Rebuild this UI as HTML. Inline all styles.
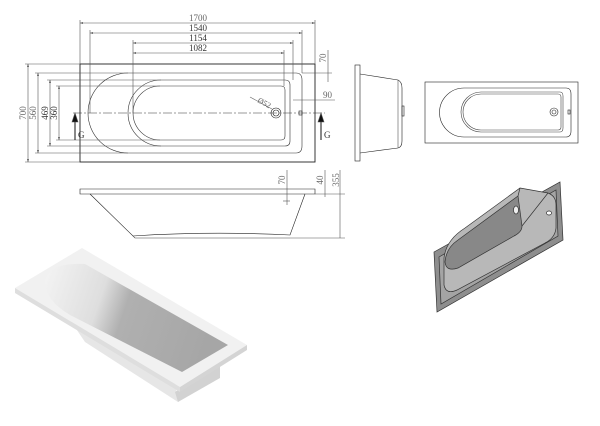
<!DOCTYPE html>
<html><head><meta charset="utf-8"><style>
html,body{margin:0;padding:0;background:#fff;}
svg{display:block;font-family:"Liberation Serif",serif;}
</style></head><body>
<svg width="600" height="426" viewBox="0 0 600 426" xmlns="http://www.w3.org/2000/svg">
<defs>
<marker id="a" markerWidth="6" markerHeight="6" refX="5" refY="3" orient="auto-start-reverse"><path d="M0,1.5 L5,3 L0,4.5z" fill="#444"/></marker>
<linearGradient id="g2" x1="0" y1="0" x2="1" y2="0.2"><stop offset="0" stop-color="#f4f4f4"/><stop offset="0.35" stop-color="#dedede"/><stop offset="0.5" stop-color="#b0b0b0"/><stop offset="1" stop-color="#a6a6a6"/></linearGradient>
</defs>
<g fill="none" stroke="#555" stroke-width="0.6">
<rect x="80" y="64" width="235" height="98" stroke="#222" stroke-width="0.9"/>
<path d="M128,73 H296 Q302,73 302,80 V146 Q302,153 296,153 H128 A40,40 0 0 1 128,73Z" stroke="#333"/>
<path d="M161,80 H285 Q290,80 290,85 V141 Q290,146 285,146 H161 A33,33 0 0 1 161,80Z" stroke="#333"/>
<path d="M160,86 H281 Q285,86 285,90 V136 Q285,140 281,140 H160 A27,27 0 0 1 160,86Z" stroke="#333"/>
<line x1="73" y1="113" x2="325" y2="113" stroke="#333" stroke-dasharray="9,2,2,2"/>
<circle cx="276" cy="113" r="5" stroke="#222"/><circle cx="276" cy="113" r="3" stroke="#222"/>
<rect x="299" y="111" width="3" height="4" stroke="#222"/>
<line x1="250" y1="97" x2="272" y2="109" stroke="#666"/>
<line x1="80" y1="23" x2="315" y2="23" marker-start="url(#a)" marker-end="url(#a)"/>
<line x1="90" y1="33" x2="302" y2="33" marker-start="url(#a)" marker-end="url(#a)"/>
<line x1="133" y1="43" x2="293" y2="43" marker-start="url(#a)" marker-end="url(#a)"/>
<line x1="133" y1="53" x2="284" y2="53" marker-start="url(#a)" marker-end="url(#a)"/>
<line x1="80" y1="20" x2="80" y2="64"/><line x1="315" y1="20" x2="315" y2="64"/>
<line x1="90" y1="30" x2="90" y2="113"/><line x1="302" y1="30" x2="302" y2="73"/>
<line x1="133" y1="40" x2="133" y2="113"/><line x1="293" y1="40" x2="293" y2="80"/>
<line x1="284" y1="50" x2="284" y2="86"/>
<line x1="28" y1="64" x2="28" y2="162" marker-start="url(#a)" marker-end="url(#a)"/>
<line x1="38" y1="73" x2="38" y2="153" marker-start="url(#a)" marker-end="url(#a)"/>
<line x1="50" y1="80" x2="50" y2="146" marker-start="url(#a)" marker-end="url(#a)"/>
<line x1="59" y1="86" x2="59" y2="140" marker-start="url(#a)" marker-end="url(#a)"/>
<line x1="25" y1="64" x2="80" y2="64"/><line x1="25" y1="162" x2="80" y2="162"/>
<line x1="35" y1="73" x2="128" y2="73"/><line x1="35" y1="153" x2="128" y2="153"/>
<line x1="47" y1="80" x2="161" y2="80"/><line x1="47" y1="146" x2="161" y2="146"/>
<line x1="56" y1="86" x2="160" y2="86"/><line x1="56" y1="140" x2="160" y2="140"/>
<line x1="328" y1="50" x2="328" y2="82"/><line x1="302" y1="73" x2="332" y2="73"/>
<line x1="293" y1="100" x2="335" y2="100"/>
<line x1="75" y1="140" x2="75" y2="118" stroke="#111" stroke-width="1"/><path d="M72,122 L75,113 L78,122Z" fill="#111"/>
<line x1="321" y1="140" x2="321" y2="118" stroke="#111" stroke-width="1"/><path d="M318,122 L321,113 L324,122Z" fill="#111"/>
<path d="M80,189 H315 V194 H80Z" stroke="#222"/>
<path d="M90,194 L133,236 Q210,231 290,235 L305,194" stroke="#222"/>
<path d="M133,236 L135,238 H290" stroke="#444"/>
<line x1="287" y1="170" x2="287" y2="205"/><line x1="325" y1="170" x2="325" y2="197"/><line x1="340" y1="170" x2="340" y2="238"/>
<line x1="283" y1="201" x2="290" y2="201"/><line x1="315" y1="194" x2="345" y2="194"/><line x1="290" y1="238" x2="345" y2="238"/>
<rect x="355" y="65" width="5" height="96" stroke="#222"/>
<path d="M360,74 L398,80 Q402,82 402,88 V141 Q402,147 398,148 L360,153" stroke="#222"/>
<line x1="398" y1="80" x2="398" y2="148"/><rect x="402" y="106" width="2" height="10" stroke="#222"/>
<rect x="425" y="82" width="153" height="61" stroke="#222"/>
<path d="M464,88 H566 Q571,88 571,94 V131 Q571,137 566,137 H464 A24.5,24.5 0 0 1 464,88Z" stroke="#222"/>
<path d="M481,92 H560 Q563,92 563,96 V128 Q563,132 560,132 H481 A20,20 0 0 1 481,92Z" stroke="#444"/>
<path d="M481,94 H558 Q561,94 561,97 V127 Q561,130 558,130 H481 A18,18 0 0 1 481,94Z" stroke="#444"/>
<circle cx="554" cy="112" r="4" stroke="#222"/><circle cx="554" cy="112" r="2" stroke="#222"/>
<rect x="568" y="110" width="2" height="4" stroke="#222"/>
</g>
<g fill="#333" font-size="9">
<text x="198" y="21" text-anchor="middle" fill="#666">1700</text>
<text x="198" y="31" text-anchor="middle">1540</text>
<text x="198" y="41" text-anchor="middle">1154</text>
<text x="198" y="51" text-anchor="middle">1082</text>
<text transform="translate(26,113) rotate(-90)" text-anchor="middle" fill="#666">700</text>
<text transform="translate(36,113) rotate(-90)" text-anchor="middle" fill="#666">560</text>
<text transform="translate(48,113) rotate(-90)" text-anchor="middle">469</text>
<text transform="translate(57,113) rotate(-90)" text-anchor="middle">360</text>
<text transform="translate(326,58) rotate(-90)" text-anchor="middle" fill="#666">70</text>
<text x="323" y="98" fill="#666">90</text>
<text x="78" y="138">G</text><text x="324" y="138">G</text>
<text transform="translate(257,102) rotate(28)" font-size="8" fill="#666">Ø52</text>
<text transform="translate(285,180) rotate(-90)" text-anchor="middle" fill="#666">70</text>
<text transform="translate(323,180) rotate(-90)" text-anchor="middle" fill="#666">40</text>
<text transform="translate(339,180) rotate(-90)" text-anchor="middle" fill="#666">355</text>
</g>
<g stroke="#333" stroke-width="0.7">
<path d="M434,252 L560,182 L563,240 L437,312Z" fill="#8e8e8e"/>
<path d="M439,257 L556,190 L558,236 L441,304Z" fill="#a4a4a4"/>
<path d="M520,188 L548,193 Q556,196 556,205 V228 Q555,238 545,243 L457,290 Q446,295 444,285 V258 Q446,240 465,228Z" fill="#b8b8b8"/>
<path d="M518,196 L522,226 Q522,232 514,236 L458,268 Q446,272 445,262 Q446,248 458,240Z" fill="#888"/>
<path d="M520,188 L518,196 M548,193 L522,226" fill="none"/>
<ellipse cx="516" cy="210" rx="2.5" ry="4" fill="#eee"/>
<ellipse cx="549" cy="213" rx="2.5" ry="2" fill="#fff"/>
</g>
<path d="M60,305 L175,380 L178,402 L85,342Z" fill="#e6e6e6"/>
<path d="M175,392 L220,365 L220,378 L178,402Z" fill="#d2d2d2"/>
<path d="M15,288 L82,248 L247,345 L180,387Z" fill="#f1f1f1"/>
<path d="M15,288 L180,387 L180,392 L15,293Z" fill="#dedede"/>
<path d="M180,387 L247,345 L247,350 L180,392Z" fill="#d4d4d4"/>
<path d="M45,282 Q48,262 85,264 L228,345 L182,372 L70,315 Q45,300 45,282Z" fill="url(#g2)"/>
</svg>
</body></html>
